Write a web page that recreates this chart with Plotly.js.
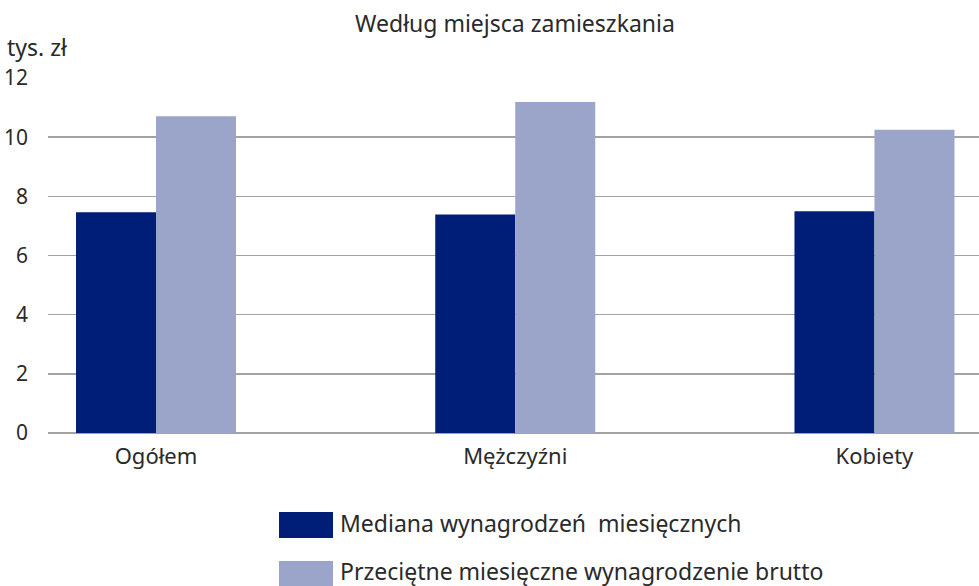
<!DOCTYPE html>
<html>
<head>
<meta charset="utf-8">
<script src="https://cdn.plot.ly/plotly-3.0.1.min.js"></script>
<style>html,body{margin:0;padding:0;background:#fff;}#chart{width:979px;height:586px;}</style>
</head>
<body>
<div id="chart"></div>
<script>
const categories = ["Ogółem", "Mężczyźni", "Kobiety"];
const medianValues = [7.46, 7.39, 7.50];
const averageValues = [10.71, 11.19, 10.25];
const seriesNames = ["Mediana wynagrodzeń\u00a0 miesięcznych", "Przeciętne miesięczne wynagrodzenie brutto"];
const yTicks = [0, 2, 4, 6, 8, 10, 12];

const FONT = "Noto Sans, Open Sans, sans-serif";
const TXT = "#2a2a2a";
const darkC = "#001e77";
const lightC = "#9aa5c9";

const W = 979, H = 586, L = 48, R = 0, T = 78, B = 153;
const pw = W - L - R, ph = H - T - B;
const px = x => (x - L) / pw;
const py = y => (H - B - y) / ph;

const traces = [
  {type: "bar", x: categories, y: medianValues, name: seriesNames[0], marker: {color: darkC}, hoverinfo: "y"},
  {type: "bar", x: categories, y: averageValues, name: seriesNames[1], marker: {color: lightC}, hoverinfo: "y"}
];

const layout = {
  width: W, height: H,
  margin: {l: L, r: R, t: T, b: B},
  paper_bgcolor: "#fff", plot_bgcolor: "#fff",
  font: {family: FONT, size: 22, color: TXT},
  showlegend: false,
  barmode: "group",
  bargap: 0.5546,
  bargroupgap: 0,
  title: {text: "Według miejsca zamieszkania", x: px(515), xanchor: "center", xref: "paper", y: 1 - 24 / H, yanchor: "middle", yref: "container", font: {size: 23, color: TXT, family: FONT}},
  xaxis: {
    type: "category", range: [-0.3007, 2.291], showgrid: false, zeroline: false,
    showline: false, ticks: "", ticklabelstandoff: 8, tickfont: {size: 22, color: TXT}
  },
  yaxis: {
    range: [0, 12], tickvals: yTicks, ticktext: yTicks.map(String),
    showgrid: true, gridcolor: "#a3a3a3", gridwidth: 1.6,
    zeroline: true, zerolinecolor: "#a3a3a3", zerolinewidth: 1.6,
    showline: false, ticks: "", ticklabelstandoff: 19, tickfont: {size: 21, color: TXT}
  },
  shapes: [
    {type: "rect", xref: "paper", yref: "paper", x0: px(279), x1: px(333), y0: py(512), y1: py(538), fillcolor: darkC, line: {width: 0}},
    {type: "rect", xref: "paper", yref: "paper", x0: px(279), x1: px(333), y0: py(561), y1: py(590), fillcolor: lightC, line: {width: 0}}
  ],
  annotations: [
    {xref: "paper", yref: "paper", x: px(5), y: py(47), xanchor: "left", yanchor: "middle", text: "tys. zł", showarrow: false, font: {size: 23, color: TXT}},
    {xref: "paper", yref: "paper", x: px(338), y: py(523), xanchor: "left", yanchor: "middle", text: seriesNames[0], showarrow: false, font: {size: 23, color: TXT}},
    {xref: "paper", yref: "paper", x: px(338), y: py(571), xanchor: "left", yanchor: "middle", text: seriesNames[1], showarrow: false, font: {size: 23, color: TXT}}
  ]
};

Plotly.newPlot("chart", traces, layout, {displayModeBar: false, staticPlot: true});
</script>
</body>
</html>
